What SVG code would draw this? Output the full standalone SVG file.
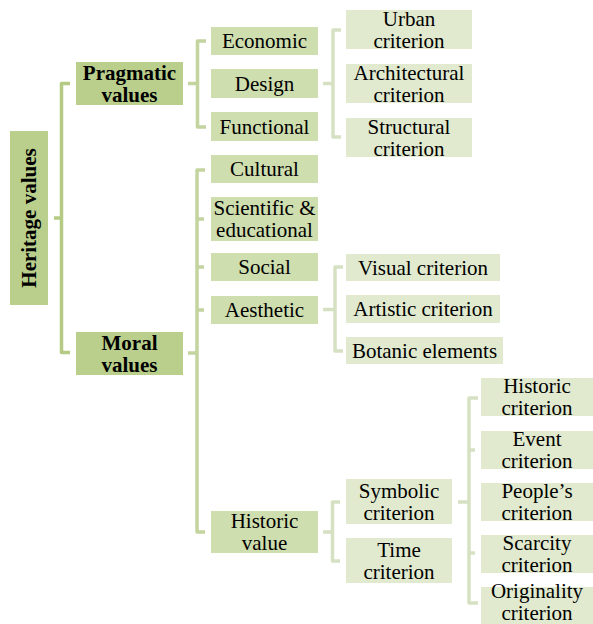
<svg xmlns="http://www.w3.org/2000/svg" width="593" height="624" viewBox="0 0 593 624">
<style>
text{font-family:"Liberation Serif","Times New Roman",serif;font-size:21px;fill:#000;text-anchor:middle}
.b{font-weight:bold}
.l1{fill:#b9cf8b}
.l2{fill:#cfdeae}
.l3{fill:#e1eacf}
.c{fill:none;stroke-width:3.5;stroke-linejoin:round;stroke-linecap:butt}
.c0{stroke:#b5cb85}
.c1{stroke:#c3d49e}
.c2{stroke:#d6e1c3}
</style>
<rect width="593" height="624" fill="#fff"/>
<g id="connectors">
<path class="c c0" d="M70,83.5H61.5V352.5H70M54,218H61.5"/>
<path class="c c1" d="M206,41H197.5V127H206M188,83.5H197.5"/>
<path class="c c2" d="M341,30H333V137H341M323,83.5H333"/>
<path class="c c1" d="M205,170H197V532H205M197,219H204M197,267H204M197,310H204M188,353H197"/>
<path class="c c2" d="M343,267H335V351H343M323,309.5H335"/>
<path class="c c2" d="M340,502H332.5V561H340M323,532H332.5"/>
<path class="c c2" d="M478,398H469V603H478M469,450H475M469,553H475M458,502H469"/>
</g>
<g id="heritage"><rect class="l1" x="10" y="131" width="38" height="174"/><text class="b" transform="translate(29,218) rotate(-90)" x="0" y="7">Heritage values</text></g>
<g id="pragmatic"><rect class="l1" x="76" y="62" width="107" height="43"/><text class="b" x="129.5" y="79.5">Pragmatic</text><text class="b" x="129.5" y="101.5">values</text></g>
<g id="moral"><rect class="l1" x="76" y="332" width="107" height="43"/><text class="b" x="129.5" y="349.5">Moral</text><text class="b" x="129.5" y="371.5">values</text></g>
<g id="economic"><rect class="l2" x="211" y="27" width="107" height="28"/><text x="264.5" y="48">Economic</text></g>
<g id="design"><rect class="l2" x="211" y="69" width="107" height="29"/><text x="264.5" y="90.5">Design</text></g>
<g id="functional"><rect class="l2" x="211" y="112" width="107" height="29"/><text x="264.5" y="133.5">Functional</text></g>
<g id="cultural"><rect class="l2" x="211" y="155" width="107" height="28"/><text x="264.5" y="176">Cultural</text></g>
<g id="scientific"><rect class="l2" x="211" y="197" width="107" height="44"/><text x="264.5" y="215">Scientific &amp;</text><text x="264.5" y="237">educational</text></g>
<g id="social"><rect class="l2" x="211" y="253" width="107" height="28"/><text x="264.5" y="274">Social</text></g>
<g id="aesthetic"><rect class="l2" x="211" y="296" width="107" height="28"/><text x="264.5" y="317">Aesthetic</text></g>
<g id="historic-value"><rect class="l2" x="211" y="511" width="107" height="42"/><text x="264.5" y="528">Historic</text><text x="264.5" y="550">value</text></g>
<g id="urban"><rect class="l3" x="346" y="10" width="126" height="39"/><text x="409" y="25.5">Urban</text><text x="409" y="47.5">criterion</text></g>
<g id="architectural"><rect class="l3" x="346" y="64" width="126" height="39"/><text x="409" y="79.5">Architectural</text><text x="409" y="101.5">criterion</text></g>
<g id="structural"><rect class="l3" x="346" y="118" width="126" height="39"/><text x="409" y="133.5">Structural</text><text x="409" y="155.5">criterion</text></g>
<g id="visual"><rect class="l3" x="346" y="254" width="154" height="27"/><text x="423" y="274.5">Visual criterion</text></g>
<g id="artistic"><rect class="l3" x="346" y="295" width="154" height="28"/><text x="423" y="316">Artistic criterion</text></g>
<g id="botanic"><rect class="l3" x="346" y="337" width="157" height="27"/><text x="424.5" y="357.5">Botanic elements</text></g>
<g id="symbolic"><rect class="l3" x="346" y="479" width="106" height="45"/><text x="399" y="497.5">Symbolic</text><text x="399" y="519.5">criterion</text></g>
<g id="time"><rect class="l3" x="346" y="538" width="106" height="45"/><text x="399" y="556.5">Time</text><text x="399" y="578.5">criterion</text></g>
<g id="historic-criterion"><rect class="l3" x="481" y="378" width="112" height="38"/><text x="537" y="393">Historic</text><text x="537" y="415">criterion</text></g>
<g id="event"><rect class="l3" x="481" y="431" width="112" height="38"/><text x="537" y="446">Event</text><text x="537" y="468">criterion</text></g>
<g id="peoples"><rect class="l3" x="481" y="483" width="112" height="38"/><text x="537" y="498">People’s</text><text x="537" y="520">criterion</text></g>
<g id="scarcity"><rect class="l3" x="481" y="535" width="112" height="38"/><text x="537" y="550">Scarcity</text><text x="537" y="572">criterion</text></g>
<g id="originality"><rect class="l3" x="481" y="587" width="112" height="40"/><text x="537" y="598">Originality</text><text x="537" y="620">criterion</text></g>
</svg>
